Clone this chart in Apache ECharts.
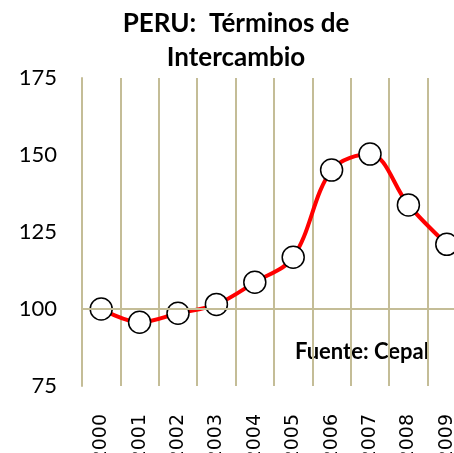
<!DOCTYPE html>
<html>
<head>
<meta charset="utf-8">
<script src="https://cdn.jsdelivr.net/npm/echarts@6/dist/echarts.min.js"></script>
<style>
    html, body { margin: 0; padding: 0; background: #fff; overflow: hidden; }
    /* el grafico es mas ancho que la ventana: la ultima columna queda cortada */
    #chart { width: 480px; height: 453px; }
</style>
</head>
<body>
<div id="chart"></div>
<script>
// datos
var years = ['2000', '2001', '2002', '2003', '2004', '2005', '2006', '2007', '2008', '2009'];
var terminos = [100, 95.7, 98.6, 101.5, 108.7, 116.8, 145.1, 150.3, 133.8, 121.0];
var yTicks = { min: 75, max: 175, step: 25 };
var baseLine = 100;

var tan = '#c4bd97';

var myChart = echarts.init(document.getElementById('chart'));
var option = {
    backgroundColor: '#fff',
    animation: false,
    title: {
        text: 'PERU:  Términos de\nIntercambio',
        left: 231,
        textAlign: 'center',
        top: 2,
        textStyle: {
            fontFamily: 'Lato',
            fontSize: 26,
            fontWeight: 'bold',
            color: '#000',
            lineHeight: 34
        }
    },
    grid: {
        left: 82,
        top: 78,
        width: 384,
        height: 308,
        outerBoundsMode: 'none'
    },
    xAxis: {
        type: 'category',
        data: years,
        boundaryGap: true,
        axisLine: { show: false },
        axisTick: { show: false },
        splitLine: {
            show: true,
            lineStyle: { color: tan, width: 2 }
        },
        axisLabel: {
            rotate: 90,
            margin: 28,
            fontFamily: 'DejaVu Sans',
            fontSize: 19,
            color: '#000'
        }
    },
    yAxis: {
        type: 'value',
        min: yTicks.min,
        max: yTicks.max,
        interval: yTicks.step,
        axisLine: { show: true, lineStyle: { color: tan, width: 2 } },
        axisTick: { show: false },
        splitLine: { show: false },
        axisLabel: {
            margin: 25,
            fontFamily: 'Lato',
            fontSize: 22,
            color: '#000'
        }
    },
    graphic: [{
        type: 'text',
        left: 295,
        top: 341,
        style: {
            text: 'Fuente: Cepal',
            font: 'bold 22px Lato',
            fill: '#000'
        }
    }],
    series: [{
        type: 'line',
        data: terminos,
        smooth: 0.35,
        symbol: 'circle',
        symbolSize: 22,
        lineStyle: { color: '#ff0000', width: 4 },
        itemStyle: { color: '#fff', borderColor: '#000', borderWidth: 1.5 },
        z: 3,
        markLine: {
            silent: true,
            symbol: 'none',
            label: { show: false },
            lineStyle: { color: tan, width: 2, type: 'solid' },
            data: [{ yAxis: baseLine }]
        }
    }]
};
myChart.setOption(option, true);
</script>
</body>
</html>
